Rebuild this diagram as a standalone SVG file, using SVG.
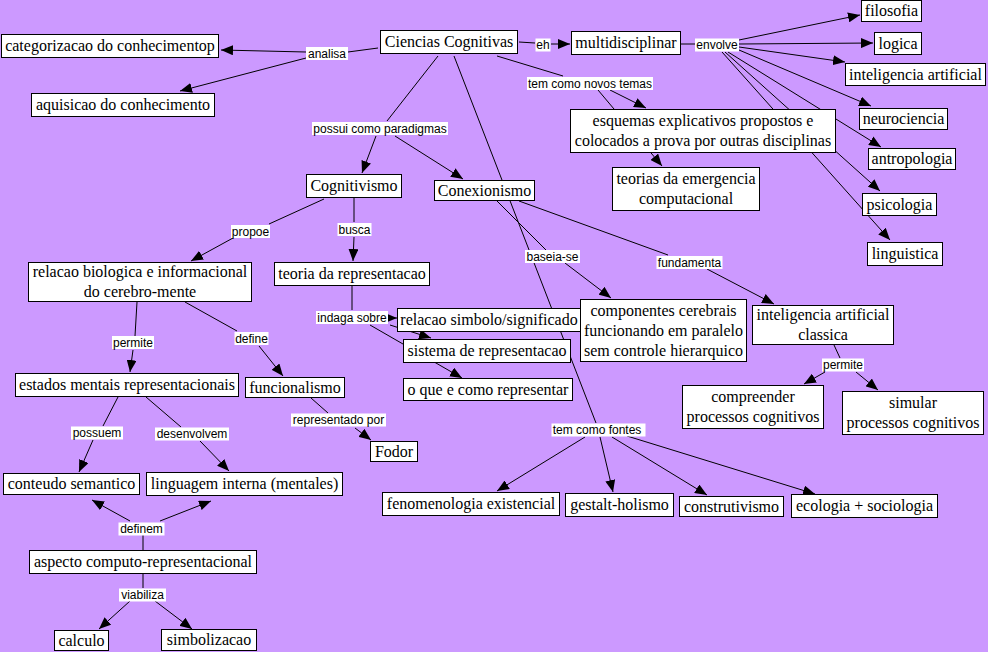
<svg xmlns="http://www.w3.org/2000/svg" width="988" height="652" viewBox="0 0 988 652">
<style>
.n rect{fill:#fff;stroke:#000;stroke-width:1}
.n text{font-family:"Liberation Serif","Times New Roman",serif;font-size:16px;fill:#000;text-anchor:middle}
.l rect{fill:#fff;stroke:none}
.l text{font-family:"Liberation Sans",Arial,sans-serif;font-size:12px;fill:#000;text-anchor:middle}
#connectors line{stroke:#000;stroke-width:1}
#connectors .a{marker-end:url(#ah)}
</style>
<defs>
<marker id="ah" viewBox="0 0 12 10" refX="12" refY="5" markerWidth="12" markerHeight="10" markerUnits="userSpaceOnUse" orient="auto"><path d="M0,0 L12,5 L0,10 z" fill="#000"/></marker>
</defs>
<rect width="988" height="652" fill="#CC99FF"/>
<g id="connectors">
<line x1="378" y1="48" x2="348" y2="52"/>
<line x1="519" y1="42" x2="535" y2="43"/>
<line x1="681" y1="44" x2="695" y2="44"/>
<line x1="497" y1="56" x2="563" y2="76"/>
<line x1="438" y1="56" x2="387" y2="121"/>
<line x1="454" y1="56" x2="596" y2="423"/>
<line x1="324" y1="199" x2="269" y2="224"/>
<line x1="354" y1="198" x2="354" y2="222"/>
<line x1="497" y1="201" x2="546" y2="250"/>
<line x1="519" y1="201" x2="668" y2="255"/>
<line x1="352" y1="286" x2="352" y2="310"/>
<line x1="137" y1="302" x2="135" y2="336"/>
<line x1="185" y1="302" x2="237" y2="331"/>
<line x1="311" y1="398" x2="328" y2="413"/>
<line x1="118" y1="397" x2="103" y2="426"/>
<line x1="146" y1="397" x2="181" y2="427"/>
<line x1="143" y1="550" x2="143" y2="535"/>
<line x1="143" y1="574" x2="143" y2="588"/>
<line x1="834" y1="345" x2="840" y2="358"/>
<line class="a" x1="306" y1="52" x2="221" y2="50"/>
<line class="a" x1="306" y1="58" x2="180" y2="91"/>
<line class="a" x1="551" y1="44" x2="570" y2="44"/>
<line class="a" x1="739" y1="40" x2="860" y2="15"/>
<line class="a" x1="739" y1="44" x2="873" y2="43"/>
<line class="a" x1="739" y1="47" x2="845" y2="62"/>
<line class="a" x1="739" y1="50" x2="871" y2="106"/>
<line class="a" x1="728" y1="52" x2="881" y2="147"/>
<line class="a" x1="725" y1="52" x2="880" y2="191"/>
<line class="a" x1="722" y1="52" x2="890" y2="240"/>
<line class="a" x1="610" y1="90" x2="646" y2="108"/>
<line class="a" x1="598" y1="90" x2="662" y2="166"/>
<line class="a" x1="376" y1="136" x2="362" y2="173"/>
<line class="a" x1="395" y1="136" x2="463" y2="179"/>
<line class="a" x1="233" y1="238" x2="191" y2="261"/>
<line class="a" x1="354" y1="237" x2="353" y2="261"/>
<line class="a" x1="565" y1="263" x2="611" y2="298"/>
<line class="a" x1="707" y1="269" x2="774" y2="304"/>
<line class="a" x1="387" y1="318" x2="397" y2="318"/>
<line class="a" x1="390" y1="325" x2="431" y2="338"/>
<line class="a" x1="370" y1="325" x2="462" y2="378"/>
<line class="a" x1="133" y1="350" x2="130" y2="372"/>
<line class="a" x1="259" y1="346" x2="283" y2="376"/>
<line class="a" x1="355" y1="428" x2="371" y2="440"/>
<line class="a" x1="93" y1="440" x2="79" y2="472"/>
<line class="a" x1="200" y1="441" x2="229" y2="471"/>
<line class="a" x1="130" y1="521" x2="92" y2="500"/>
<line class="a" x1="160" y1="521" x2="211" y2="501"/>
<line class="a" x1="130" y1="601" x2="99" y2="629"/>
<line class="a" x1="155" y1="601" x2="192" y2="629"/>
<line class="a" x1="825" y1="372" x2="804" y2="384"/>
<line class="a" x1="856" y1="372" x2="878" y2="390"/>
<line class="a" x1="585" y1="437" x2="497" y2="491"/>
<line class="a" x1="600" y1="437" x2="613" y2="492"/>
<line class="a" x1="612" y1="437" x2="707" y2="495"/>
<line class="a" x1="627" y1="436" x2="815" y2="494"/>
</g>
<g id="labels">
<g class="l" id="lb-analisa"><rect x="306" y="47" width="42" height="13"/><text x="327" y="57.5">analisa</text></g>
<g class="l" id="lb-eh"><rect x="535.5" y="38.5" width="15" height="13"/><text x="543" y="49">eh</text></g>
<g class="l" id="lb-envolve"><rect x="695" y="38.5" width="44" height="13"/><text x="717" y="49">envolve</text></g>
<g class="l" id="lb-novos"><rect x="527" y="77" width="126" height="13"/><text x="590" y="87.5">tem como novos temas</text></g>
<g class="l" id="lb-possui"><rect x="312" y="122" width="136" height="13"/><text x="380" y="132.5">possui como paradigmas</text></g>
<g class="l" id="lb-propoe"><rect x="231" y="225" width="39" height="13"/><text x="250.5" y="235.5">propoe</text></g>
<g class="l" id="lb-busca"><rect x="337.5" y="223" width="34" height="13"/><text x="354.5" y="233.5">busca</text></g>
<g class="l" id="lb-baseia"><rect x="525" y="250" width="55" height="13"/><text x="552.5" y="260.5">baseia-se</text></g>
<g class="l" id="lb-fundamenta"><rect x="656.5" y="256" width="66" height="13"/><text x="689.5" y="266.5">fundamenta</text></g>
<g class="l" id="lb-indaga"><rect x="316" y="311" width="72" height="13"/><text x="352" y="321.5">indaga sobre</text></g>
<g class="l" id="lb-permite1"><rect x="112" y="336" width="42" height="13"/><text x="133" y="346.5">permite</text></g>
<g class="l" id="lb-define"><rect x="234.5" y="332" width="34" height="13"/><text x="251.5" y="342.5">define</text></g>
<g class="l" id="lb-permite2"><rect x="822" y="358.5" width="42" height="13"/><text x="843" y="369">permite</text></g>
<g class="l" id="lb-representado"><rect x="291" y="413.5" width="95" height="13"/><text x="338.5" y="424">representado por</text></g>
<g class="l" id="lb-possuem"><rect x="71" y="426.5" width="52" height="13"/><text x="97" y="437">possuem</text></g>
<g class="l" id="lb-desenvolvem"><rect x="155" y="427.5" width="74" height="13"/><text x="192" y="438">desenvolvem</text></g>
<g class="l" id="lb-definem"><rect x="118.5" y="522.5" width="46" height="13"/><text x="141.5" y="533">definem</text></g>
<g class="l" id="lb-viabiliza"><rect x="119" y="588.5" width="47" height="13"/><text x="142.5" y="599">viabiliza</text></g>
<g class="l" id="lb-fontes"><rect x="551.5" y="423.5" width="94" height="13"/><text x="597" y="434">tem como fontes</text></g>
</g>
<g id="nodes">
<g class="n" id="n-ciencias"><rect x="380.5" y="30.5" width="137" height="23"/><text x="449" y="47">Ciencias Cognitivas</text></g>
<g class="n" id="n-multi"><rect x="571.5" y="31.5" width="109" height="23"/><text x="626" y="48">multidisciplinar</text></g>
<g class="n" id="n-filosofia"><rect x="861.5" y="0.5" width="60" height="21"/><text x="891.5" y="16">filosofia</text></g>
<g class="n" id="n-logica"><rect x="874.5" y="32.5" width="47" height="22"/><text x="898" y="48.5">logica</text></g>
<g class="n" id="n-ia"><rect x="845.5" y="63.5" width="140" height="22"/><text x="915.5" y="79.5">inteligencia artificial</text></g>
<g class="n" id="n-neuro"><rect x="859.5" y="108.5" width="88" height="21"/><text x="903.5" y="124">neurociencia</text></g>
<g class="n" id="n-antropologia"><rect x="868.5" y="148.5" width="87" height="21"/><text x="912" y="164">antropologia</text></g>
<g class="n" id="n-psicologia"><rect x="862.5" y="193.5" width="74" height="22"/><text x="899.5" y="209.5">psicologia</text></g>
<g class="n" id="n-linguistica"><rect x="867.5" y="242.5" width="75" height="23"/><text x="905" y="259">linguistica</text></g>
<g class="n" id="n-esquemas"><rect x="570.5" y="109.5" width="265" height="43"/><text x="703" y="125.5">esquemas explicativos propostos e</text><text x="703" y="145.5">colocados a prova por outras disciplinas</text></g>
<g class="n" id="n-teorias"><rect x="612.5" y="167.5" width="147" height="43"/><text x="686" y="183.5">teorias da emergencia</text><text x="686" y="203.5">computacional</text></g>
<g class="n" id="n-categorizacao"><rect x="1.5" y="34.5" width="217" height="23"/><text x="110" y="51">categorizacao do conhecimentop</text></g>
<g class="n" id="n-aquisicao"><rect x="31.5" y="93.5" width="183" height="23"/><text x="123" y="110">aquisicao do conhecimento</text></g>
<g class="n" id="n-cognitivismo"><rect x="306.5" y="174.5" width="95" height="23"/><text x="354" y="191">Cognitivismo</text></g>
<g class="n" id="n-conexionismo"><rect x="434.5" y="180.5" width="100" height="20"/><text x="484.5" y="195.5">Conexionismo</text></g>
<g class="n" id="n-relacaobio"><rect x="28.5" y="262.5" width="223" height="39"/><text x="140" y="277">relacao biologica e informacional</text><text x="140" y="296.5">do cerebro-mente</text></g>
<g class="n" id="n-teoriarep"><rect x="274.5" y="262.5" width="155" height="23"/><text x="352" y="279">teoria da representacao</text></g>
<g class="n" id="n-estados"><rect x="15.5" y="373.5" width="223" height="23"/><text x="127" y="390">estados mentais representacionais</text></g>
<g class="n" id="n-funcionalismo"><rect x="245.5" y="377.5" width="99" height="20"/><text x="295" y="392.5">funcionalismo</text></g>
<g class="n" id="n-simbolo"><rect x="397.5" y="308.5" width="183" height="23"/><text x="489" y="325">relacao simbolo/significado</text></g>
<g class="n" id="n-sistema"><rect x="403.5" y="339.5" width="167" height="23"/><text x="487" y="356">sistema de representacao</text></g>
<g class="n" id="n-oque"><rect x="403.5" y="378.5" width="169" height="22"/><text x="488" y="394.5">o que e como representar</text></g>
<g class="n" id="n-componentes"><rect x="580.5" y="299.5" width="166" height="62"/><text x="663.5" y="315.5">componentes cerebrais</text><text x="663.5" y="335.5">funcionando em paralelo</text><text x="663.5" y="355.5">sem controle hierarquico</text></g>
<g class="n" id="n-iaclassica"><rect x="752.5" y="305.5" width="141" height="39"/><text x="823" y="320">inteligencia artificial</text><text x="823" y="339.5">classica</text></g>
<g class="n" id="n-compreender"><rect x="682.5" y="385.5" width="141" height="43"/><text x="753" y="401.5">compreender</text><text x="753" y="421.5">processos cognitivos</text></g>
<g class="n" id="n-simular"><rect x="842.5" y="391.5" width="141" height="43"/><text x="913" y="407.5">simular</text><text x="913" y="427.5">processos cognitivos</text></g>
<g class="n" id="n-fodor"><rect x="370.5" y="441.5" width="47" height="20"/><text x="394" y="456.5">Fodor</text></g>
<g class="n" id="n-conteudo"><rect x="3.5" y="473.5" width="136" height="21"/><text x="71.5" y="489">conteudo semantico</text></g>
<g class="n" id="n-linguagem"><rect x="146.5" y="472.5" width="196" height="23"/><text x="244.5" y="489">linguagem interna (mentales)</text></g>
<g class="n" id="n-aspecto"><rect x="29.5" y="550.5" width="227" height="23"/><text x="143" y="567">aspecto computo-representacional</text></g>
<g class="n" id="n-calculo"><rect x="54.5" y="630.5" width="54" height="20"/><text x="81.5" y="645.5">calculo</text></g>
<g class="n" id="n-simbolizacao"><rect x="161.5" y="629.5" width="95" height="21"/><text x="209" y="645">simbolizacao</text></g>
<g class="n" id="n-fenomenologia"><rect x="382.5" y="492.5" width="177" height="23"/><text x="471" y="509">fenomenologia existencial</text></g>
<g class="n" id="n-gestalt"><rect x="565.5" y="493.5" width="108" height="23"/><text x="619.5" y="510">gestalt-holismo</text></g>
<g class="n" id="n-construtivismo"><rect x="679.5" y="496.5" width="104" height="20"/><text x="731.5" y="511.5">construtivismo</text></g>
<g class="n" id="n-ecologia"><rect x="791.5" y="494.5" width="146" height="23"/><text x="864.5" y="511">ecologia + sociologia</text></g>
</g>
</svg>
